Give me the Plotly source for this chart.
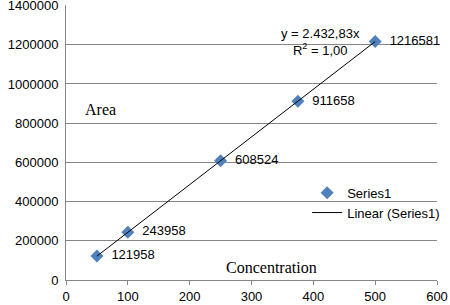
import plotly.graph_objects as go

conc = [50, 100, 250, 375, 500]
area = [121958, 243958, 608524, 911658, 1216581]
labels = [str(v) for v in area]
slope = 2432.83
x_ticks = [0, 100, 200, 300, 400, 500, 600]
y_ticks = [0, 200000, 400000, 600000, 800000, 1000000, 1200000, 1400000]

fit_x = [conc[0], conc[-1]]
fit_y = [slope * v for v in fit_x]

fig = go.Figure()
fig.add_trace(go.Scatter(
    x=conc, y=area, mode="markers+text", name="Series1",
    text=["  " + t for t in labels], textposition="middle right",
    textfont=dict(family="Liberation Sans", size=13, color="#000000"),
    marker=dict(symbol="diamond", size=10, color="#4F81BD", line=dict(width=0)),
    cliponaxis=False,
))
fig.add_trace(go.Scatter(
    x=fit_x, y=fit_y, mode="lines", name="Linear (Series1)",
    line=dict(color="#000000", width=1),
))

fig.update_layout(
    width=450, height=305,
    margin=dict(l=66, r=11, t=5, b=25),
    paper_bgcolor="white", plot_bgcolor="white",
    font=dict(family="Liberation Sans", size=13, color="#000000"),
    xaxis=dict(range=[0, 600], tickvals=x_ticks, showgrid=False, zeroline=False,
               showline=True, linecolor="#868686", linewidth=1, automargin=False,
               ticks="outside", ticklen=4, tickcolor="#868686",
               tickfont=dict(family="Liberation Sans", size=13)),
    yaxis=dict(range=[0, 1403000], tickvals=y_ticks, showgrid=True,
               gridcolor="#868686", gridwidth=1, zeroline=False,
               showline=True, linecolor="#868686", linewidth=1, automargin=False,
               ticks="", tickformat="d", ticklabeloverflow="allow",
               ticklabelstandoff=4,
               tickfont=dict(family="Liberation Sans", size=13)),
    showlegend=True,
    legend=dict(x=0.65, y=0.372, xanchor="left", yanchor="top",
                bgcolor="rgba(255,255,255,0)", borderwidth=0,
                font=dict(family="Liberation Sans", size=13),
                tracegroupgap=0, itemwidth=30),
    annotations=[
        dict(x=0.045, y=0.62, xref="paper", yref="paper", text="Area", showarrow=False,
             xanchor="left", font=dict(family="Liberation Serif", size=16)),
        dict(x=0.555, y=0.008, xref="paper", yref="paper", text="Concentration", showarrow=False,
             xanchor="center", font=dict(family="Liberation Serif", size=16)),
        dict(x=0.685, y=0.932, xref="paper", yref="paper",
             text="y = 2.432,83x<br>R<sup>2</sup> = 1,00", showarrow=False,
             xanchor="center", align="center",
             font=dict(family="Liberation Sans", size=13)),
    ],
)

fig.write_html("out.html", config={"displayModeBar": False},
               post_script="document.body.style.margin='0';document.body.style.overflow='hidden';")
